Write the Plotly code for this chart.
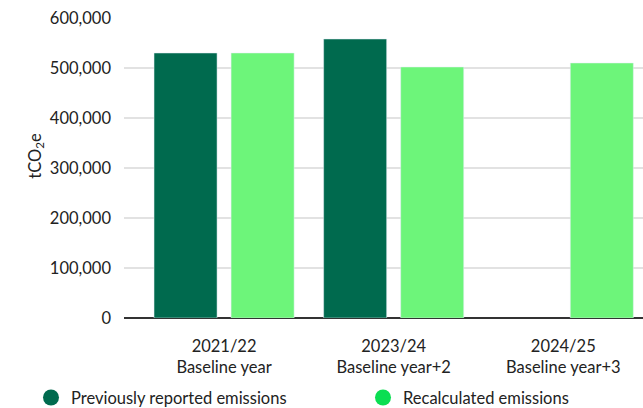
import plotly.graph_objects as go

categories = ["2021/22<br>Baseline year", "2023/24<br>Baseline year+2", "2024/25<br>Baseline year+3"]
previously_reported = [530000, 558000, None]
recalculated = [530000, 502000, 510000]
y_ticks = [0, 100000, 200000, 300000, 400000, 500000, 600000]

DARK = "#006A4E"
LIGHT_BAR = "#6DF57A"
LIGHT_KEY = "#0BDE52"
FONT = "Lato"
TEXT = "#222222"
FS = 16.5

fig = go.Figure()
fig.add_bar(x=categories, y=previously_reported, marker_color=DARK,
            name="Previously reported emissions", showlegend=False)
fig.add_bar(x=categories, y=recalculated, marker_color=LIGHT_BAR,
            name="Recalculated emissions", showlegend=False)

# Circular legend keys, one legend box per series
fig.add_scatter(x=[None], y=[None], mode="markers",
                marker=dict(symbol="circle", size=20, color=DARK),
                name="Previously reported emissions", legend="legend")
fig.add_scatter(x=[None], y=[None], mode="markers",
                marker=dict(symbol="circle", size=20, color=LIGHT_KEY),
                name="Recalculated emissions", legend="legend2")

legend_common = dict(orientation="h", xref="container", yref="container",
                     y=0.025, xanchor="left", yanchor="middle",
                     font=dict(size=FS, color=TEXT), itemsizing="trace",
                     bgcolor="rgba(0,0,0,0)")

fig.update_layout(
    width=643, height=408,
    margin=dict(l=124, r=0, t=18, b=90, autoexpand=False),
    paper_bgcolor="white", plot_bgcolor="white",
    font=dict(family=FONT, size=FS, color=TEXT),
    barmode="group", bargap=0.0914, bargroupgap=0.182,
    legend=dict(x=31 / 643, **legend_common),
    legend2=dict(x=363 / 643, **legend_common),
    annotations=[dict(text="tCO<sub>2</sub>e", textangle=-90,
                      xref="paper", yref="paper", x=-0.172, y=0.54,
                      xanchor="center", yanchor="middle", showarrow=False,
                      font=dict(size=FS, color=TEXT))],
)
fig.update_xaxes(type="category", range=[-0.59, 2.47], showgrid=False,
                 showline=False, ticks="", ticklabelstandoff=16,
                 tickfont=dict(size=FS, color=TEXT))
fig.update_yaxes(range=[0, 600000], tickvals=y_ticks, tickformat=",",
                 showgrid=True, gridcolor="#E2E2E2", gridwidth=2,
                 zeroline=True, zerolinecolor="#333333", zerolinewidth=1.5,
                 showline=False, ticks="", ticklabelstandoff=12,
                 tickfont=dict(size=FS, color=TEXT))

fig.write_html("out.html")
